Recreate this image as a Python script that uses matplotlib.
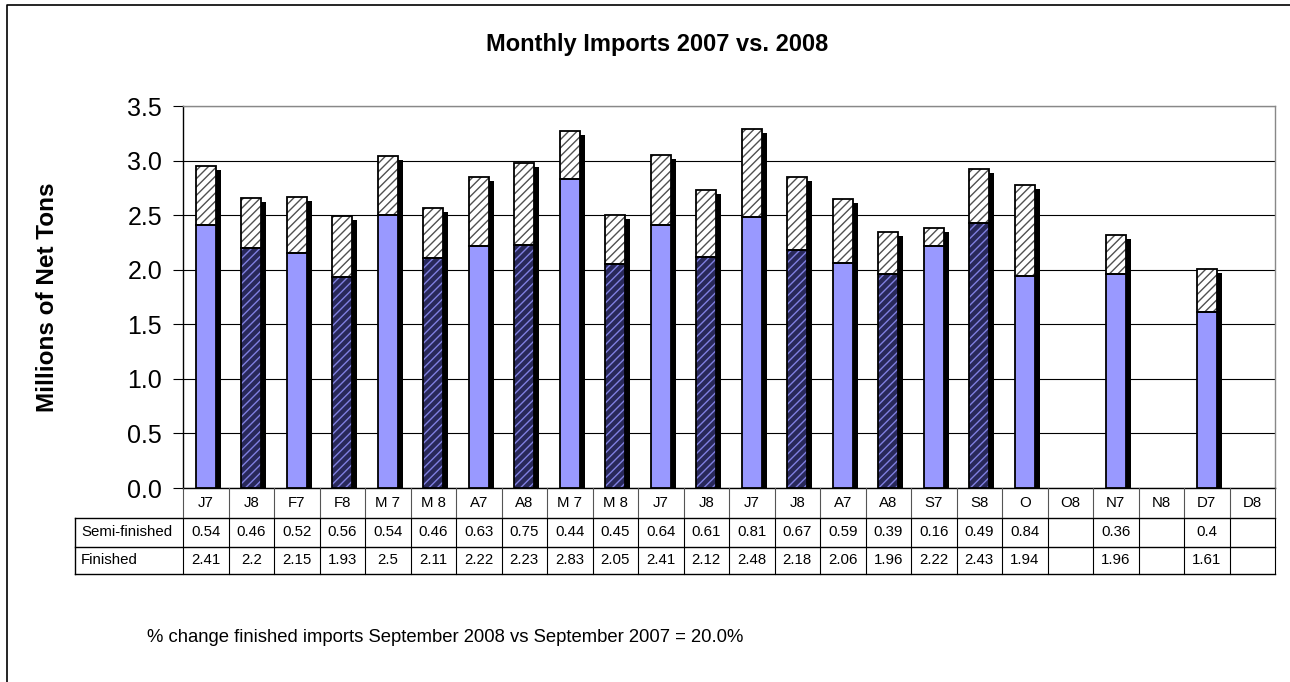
import matplotlib
matplotlib.use('Agg')
import matplotlib.pyplot as plt
from matplotlib.patches import Rectangle

plt.rcParams['font.family'] = ['Liberation Sans', 'DejaVu Sans']

# --- data ---
categories = ['J7', 'J8', 'F7', 'F8', 'M 7', 'M 8', 'A7', 'A8', 'M 7', 'M 8',
              'J7', 'J8', 'J7', 'J8', 'A7', 'A8', 'S7', 'S8', 'O', 'O8',
              'N7', 'N8', 'D7', 'D8']
semi_finished = [0.54, 0.46, 0.52, 0.56, 0.54, 0.46, 0.63, 0.75, 0.44, 0.45,
                 0.64, 0.61, 0.81, 0.67, 0.59, 0.39, 0.16, 0.49, 0.84, None,
                 0.36, None, 0.4, None]
finished = [2.41, 2.2, 2.15, 1.93, 2.5, 2.11, 2.22, 2.23, 2.83, 2.05,
            2.41, 2.12, 2.48, 2.18, 2.06, 1.96, 2.22, 2.43, 1.94, None,
            1.96, None, 1.61, None]
# year of each column: 2007 bars are plain, 2008 bars hatched
is_2008 = [c.strip().endswith('8') for c in categories]

TITLE = 'Monthly Imports 2007 vs. 2008'
YLABEL = 'Millions of Net Tons'
NOTE = '% change finished imports September 2008 vs September 2007 = 20.0%'

W, H = 1290, 682
AX_L, AX_R, AX_T, AX_B = 183, 1275, 106, 488
ROW_Y = [488, 518, 547, 574]
LABEL_X = 75

fig = plt.figure(figsize=(W / 100, H / 100), dpi=100)
ax = fig.add_axes([AX_L / W, 1 - AX_B / H, (AX_R - AX_L) / W, (AX_B - AX_T) / H])

n = len(categories)
ax.set_xlim(0, n)
ax.set_ylim(0, 3.5)

bw = 0.44
px_x = n / (AX_R - AX_L)          # data units per pixel (x)
px_y = 3.5 / (AX_B - AX_T)        # data units per pixel (y)
sx, sy = 5 * px_x, 4 * px_y

for i in range(n):
    if finished[i] is None:
        continue
    x = i + 0.5 - bw / 2
    f = finished[i]
    s = semi_finished[i]
    top = f + s
    # shadow
    ax.add_patch(Rectangle((x + sx, 0), bw, top - sy, facecolor='black',
                           edgecolor='none', zorder=2))
    # finished part
    if is_2008[i]:
        ax.add_patch(Rectangle((x, 0), bw, f, facecolor='#28285a',
                               edgecolor='none', zorder=3))
        ax.add_patch(Rectangle((x, 0), bw, f, facecolor='none',
                               edgecolor='#8080e0', hatch='////', lw=0, zorder=4))
    else:
        ax.add_patch(Rectangle((x, 0), bw, f, facecolor='#9999ff',
                               edgecolor='none', zorder=3))
    ax.add_patch(Rectangle((x, 0), bw, f, facecolor='none',
                           edgecolor='black', lw=1.3, zorder=5))
    # semi-finished part
    ax.add_patch(Rectangle((x, f), bw, s, facecolor='white',
                           edgecolor='none', zorder=3))
    ax.add_patch(Rectangle((x, f), bw, s, facecolor='none',
                           edgecolor='#505050', hatch='////', lw=0, zorder=4))
    ax.add_patch(Rectangle((x, f), bw, s, facecolor='none',
                           edgecolor='black', lw=1.3, zorder=5))

ax.set_yticks([i * 0.5 for i in range(8)])
ax.set_yticklabels([f'{i * 0.5:.1f}' for i in range(8)], fontsize=18)
ax.yaxis.grid(True, color='black', lw=0.8)
ax.set_axisbelow(True)
ax.set_xticks([])
ax.tick_params(axis='y', length=7, width=0.8, pad=8)
ax.spines['left'].set_color('black')
ax.spines['bottom'].set_color('black')
ax.spines['top'].set_color('#888888')
ax.spines['right'].set_color('#888888')
for sp in ax.spines.values():
    sp.set_linewidth(1.0)

# overlay in pixel coordinates for border, texts and the data table
ov = fig.add_axes([0, 0, 1, 1], zorder=-1)
ov.set_xlim(0, W)
ov.set_ylim(H, 0)
ov.axis('off')

ov.plot([7, 7, W + 5], [H + 5, 5, 5], color='black', lw=1.2)

fig.text(657 / W, 1 - 45 / H, TITLE, ha='center', va='center',
         fontsize=17, fontweight='bold')
fig.text(48 / W, 1 - 297 / H, YLABEL, ha='center', va='center',
         rotation=90, fontsize=17.5, fontweight='bold')
fig.text(147 / W, 1 - 637 / H, NOTE, ha='left', va='center', fontsize=13.3)

ov2 = fig.add_axes([0, 0, 1, 1])
ov2.set_xlim(0, W)
ov2.set_ylim(H, 0)
ov2.axis('off')

col_w = (AX_R - AX_L) / n
# horizontal table lines
for yy in ROW_Y[1:]:
    ov2.plot([LABEL_X, AX_R], [yy, yy], color='black', lw=1.0)
ov2.plot([LABEL_X, LABEL_X], [ROW_Y[1], ROW_Y[3]], color='black', lw=1.0)
for i in range(n + 1):
    xx = AX_L + i * col_w
    ov2.plot([xx, xx], [ROW_Y[0], ROW_Y[1]], color='#555555', lw=0.8)
    ov2.plot([xx, xx], [ROW_Y[1], ROW_Y[3]], color='black', lw=0.8)


def fmt(v):
    return '' if v is None else f'{v:g}'


TS = 10.8
for i in range(n):
    cx = AX_L + (i + 0.5) * col_w
    ov2.text(cx, (ROW_Y[0] + ROW_Y[1]) / 2, categories[i], ha='center',
             va='center', fontsize=TS)
    ov2.text(cx, (ROW_Y[1] + ROW_Y[2]) / 2, fmt(semi_finished[i]), ha='center',
             va='center', fontsize=TS)
    ov2.text(cx, (ROW_Y[2] + ROW_Y[3]) / 2, fmt(finished[i]), ha='center',
             va='center', fontsize=TS)

ov2.text(81, (ROW_Y[1] + ROW_Y[2]) / 2, 'Semi-finished', ha='left',
         va='center', fontsize=TS)
ov2.text(81, (ROW_Y[2] + ROW_Y[3]) / 2, 'Finished', ha='left',
         va='center', fontsize=TS)

fig.savefig('out.png', dpi=100, facecolor='white')
